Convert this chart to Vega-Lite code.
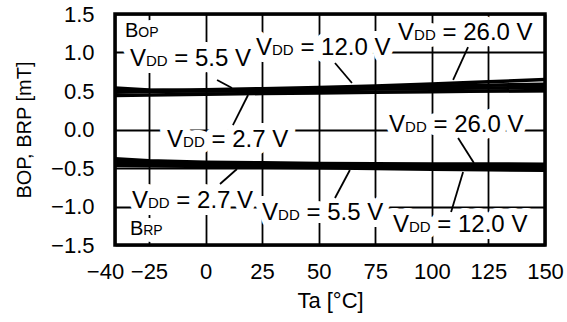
{
  "$schema": "https://vega.github.io/schema/vega-lite/v6.json",
  "width": 430,
  "height": 231,
  "autosize": {"type": "none"},
  "padding": {"left": 115, "top": 14, "right": 22, "bottom": 77},
  "background": "white",
  "config": {
    "font": "Liberation Sans",
    "view": {"stroke": "black", "strokeWidth": 3.5},
    "axis": {
      "grid": true, "gridColor": "black", "gridWidth": 1.8, "gridOpacity": 1,
      "domain": false, "ticks": false,
      "labelFont": "Liberation Sans", "labelColor": "black", "labelFontSize": 22,
      "titleFont": "Liberation Sans", "titleFontWeight": "normal", "titleColor": "black", "titleFontSize": 22
    }
  },
  "datasets": {
    "series": [
      {"curve": "BOP 26.0 V", "ta": -40, "b": 0.50}, {"curve": "BOP 26.0 V", "ta": -25, "b": 0.505}, {"curve": "BOP 26.0 V", "ta": 0, "b": 0.515}, {"curve": "BOP 26.0 V", "ta": 25, "b": 0.53}, {"curve": "BOP 26.0 V", "ta": 50, "b": 0.545}, {"curve": "BOP 26.0 V", "ta": 75, "b": 0.565}, {"curve": "BOP 26.0 V", "ta": 100, "b": 0.59}, {"curve": "BOP 26.0 V", "ta": 125, "b": 0.62}, {"curve": "BOP 26.0 V", "ta": 150, "b": 0.65},
      {"curve": "BOP 12.0 V", "ta": -40, "b": 0.485}, {"curve": "BOP 12.0 V", "ta": -25, "b": 0.492}, {"curve": "BOP 12.0 V", "ta": 0, "b": 0.503}, {"curve": "BOP 12.0 V", "ta": 25, "b": 0.517}, {"curve": "BOP 12.0 V", "ta": 50, "b": 0.532}, {"curve": "BOP 12.0 V", "ta": 75, "b": 0.547}, {"curve": "BOP 12.0 V", "ta": 100, "b": 0.562}, {"curve": "BOP 12.0 V", "ta": 125, "b": 0.576}, {"curve": "BOP 12.0 V", "ta": 150, "b": 0.588},
      {"curve": "BOP 5.5 V", "ta": -40, "b": 0.54}, {"curve": "BOP 5.5 V", "ta": -25, "b": 0.513}, {"curve": "BOP 5.5 V", "ta": 0, "b": 0.50}, {"curve": "BOP 5.5 V", "ta": 25, "b": 0.505}, {"curve": "BOP 5.5 V", "ta": 50, "b": 0.515}, {"curve": "BOP 5.5 V", "ta": 75, "b": 0.525}, {"curve": "BOP 5.5 V", "ta": 100, "b": 0.533}, {"curve": "BOP 5.5 V", "ta": 125, "b": 0.54}, {"curve": "BOP 5.5 V", "ta": 150, "b": 0.545},
      {"curve": "BOP 2.7 V", "ta": -40, "b": 0.44}, {"curve": "BOP 2.7 V", "ta": -25, "b": 0.447}, {"curve": "BOP 2.7 V", "ta": 0, "b": 0.457}, {"curve": "BOP 2.7 V", "ta": 25, "b": 0.467}, {"curve": "BOP 2.7 V", "ta": 50, "b": 0.475}, {"curve": "BOP 2.7 V", "ta": 75, "b": 0.483}, {"curve": "BOP 2.7 V", "ta": 100, "b": 0.491}, {"curve": "BOP 2.7 V", "ta": 125, "b": 0.499}, {"curve": "BOP 2.7 V", "ta": 150, "b": 0.506},
      {"curve": "BRP 26.0 V", "ta": -40, "b": -0.38}, {"curve": "BRP 26.0 V", "ta": -25, "b": -0.405}, {"curve": "BRP 26.0 V", "ta": 0, "b": -0.425}, {"curve": "BRP 26.0 V", "ta": 25, "b": -0.433}, {"curve": "BRP 26.0 V", "ta": 50, "b": -0.44}, {"curve": "BRP 26.0 V", "ta": 75, "b": -0.445}, {"curve": "BRP 26.0 V", "ta": 100, "b": -0.448}, {"curve": "BRP 26.0 V", "ta": 125, "b": -0.449}, {"curve": "BRP 26.0 V", "ta": 150, "b": -0.45},
      {"curve": "BRP 12.0 V", "ta": -40, "b": -0.415}, {"curve": "BRP 12.0 V", "ta": -25, "b": -0.425}, {"curve": "BRP 12.0 V", "ta": 0, "b": -0.44}, {"curve": "BRP 12.0 V", "ta": 25, "b": -0.45}, {"curve": "BRP 12.0 V", "ta": 50, "b": -0.458}, {"curve": "BRP 12.0 V", "ta": 75, "b": -0.465}, {"curve": "BRP 12.0 V", "ta": 100, "b": -0.47}, {"curve": "BRP 12.0 V", "ta": 125, "b": -0.475}, {"curve": "BRP 12.0 V", "ta": 150, "b": -0.48},
      {"curve": "BRP 5.5 V", "ta": -40, "b": -0.44}, {"curve": "BRP 5.5 V", "ta": -25, "b": -0.447}, {"curve": "BRP 5.5 V", "ta": 0, "b": -0.46}, {"curve": "BRP 5.5 V", "ta": 25, "b": -0.47}, {"curve": "BRP 5.5 V", "ta": 50, "b": -0.478}, {"curve": "BRP 5.5 V", "ta": 75, "b": -0.486}, {"curve": "BRP 5.5 V", "ta": 100, "b": -0.493}, {"curve": "BRP 5.5 V", "ta": 125, "b": -0.5}, {"curve": "BRP 5.5 V", "ta": 150, "b": -0.505},
      {"curve": "BRP 2.7 V", "ta": -40, "b": -0.465}, {"curve": "BRP 2.7 V", "ta": -25, "b": -0.47}, {"curve": "BRP 2.7 V", "ta": 0, "b": -0.48}, {"curve": "BRP 2.7 V", "ta": 25, "b": -0.49}, {"curve": "BRP 2.7 V", "ta": 50, "b": -0.498}, {"curve": "BRP 2.7 V", "ta": 75, "b": -0.507}, {"curve": "BRP 2.7 V", "ta": 100, "b": -0.515}, {"curve": "BRP 2.7 V", "ta": 125, "b": -0.523}, {"curve": "BRP 2.7 V", "ta": 150, "b": -0.53}
    ],
    "vlabels": [
      {"ta": -33.4, "b": 0.825, "main": "V", "sub": "DD", "rest": "= 5.5 V"},
      {"ta": 22.3, "b": 0.968, "main": "V", "sub": "DD", "rest": "= 12.0 V"},
      {"ta": 85.1, "b": 1.162, "main": "V", "sub": "DD", "rest": "= 26.0 V"},
      {"ta": -17.0, "b": -0.227, "main": "V", "sub": "DD", "rest": "= 2.7 V"},
      {"ta": 81.1, "b": -0.032, "main": "V", "sub": "DD", "rest": "= 26.0 V"},
      {"ta": -32.5, "b": -1.019, "main": "V", "sub": "DD", "rest": "= 2.7 V"},
      {"ta": 25.0, "b": -1.175, "main": "V", "sub": "DD", "rest": "= 5.5 V"},
      {"ta": 82.8, "b": -1.331, "main": "V", "sub": "DD", "rest": "= 12.0 V"}
    ],
    "blabels": [
      {"ta": -35.6, "b": 1.201, "main": "B", "sub": "OP"},
      {"ta": -33.4, "b": -1.370, "main": "B", "sub": "RP"}
    ],
    "leaders": [
      {"ta": 5.1, "b": 0.643, "ta2": 11.7, "b2": 0.539},
      {"ta": 57.2, "b": 0.864, "ta2": 64.7, "b2": 0.604},
      {"ta": 116.0, "b": 1.071, "ta2": 109.4, "b2": 0.643},
      {"ta": 12.1, "b": 0.058, "ta2": 18.8, "b2": 0.448},
      {"ta": 6.4, "b": -0.708, "ta2": 13.9, "b2": -0.513},
      {"ta": 57.2, "b": -0.890, "ta2": 63.8, "b2": -0.526},
      {"ta": 108.5, "b": -1.071, "ta2": 113.8, "b2": -0.552},
      {"ta": 111.6, "b": -0.110, "ta2": 118.6, "b2": -0.435}
    ]
  },
  "encoding": {
    "x": {
      "field": "ta", "type": "quantitative",
      "scale": {"domain": [-40, 150], "nice": false, "zero": false},
      "axis": {
        "values": [-40, -25, 0, 25, 50, 75, 100, 125, 150],
        "title": "Ta [°C]",
        "labelFlush": false,
        "labelOffset": {"condition": {"test": "datum.value === -40", "value": -10}, "value": 0},
        "labelPadding": 16, "titlePadding": 8
      }
    },
    "y": {
      "field": "b", "type": "quantitative",
      "scale": {"domain": [-1.5, 1.5], "nice": false, "zero": false},
      "axis": {
        "values": [-1.5, -1, -0.5, 0, 0.5, 1, 1.5],
        "format": ".1f",
        "title": "BOP, BRP [mT]",
        "titleFontSize": 20,
        "labelPadding": 21, "titlePadding": 16
      }
    }
  },
  "layer": [
    {"data": {"name": "vlabels"}, "mark": {"type": "text", "align": "left", "baseline": "alphabetic", "fontSize": 24, "fill": "white", "stroke": "white", "strokeWidth": 14, "strokeJoin": "round"}, "encoding": {"text": {"field": "main"}}},
    {"data": {"name": "vlabels"}, "mark": {"type": "text", "align": "left", "baseline": "alphabetic", "fontSize": 15, "dx": 16, "fill": "white", "stroke": "white", "strokeWidth": 14, "strokeJoin": "round"}, "encoding": {"text": {"field": "sub"}}},
    {"data": {"name": "vlabels"}, "mark": {"type": "text", "align": "left", "baseline": "alphabetic", "fontSize": 24, "dx": 44.4, "fill": "white", "stroke": "white", "strokeWidth": 14, "strokeJoin": "round"}, "encoding": {"text": {"field": "rest"}}},
    {"data": {"name": "blabels"}, "mark": {"type": "text", "align": "left", "baseline": "alphabetic", "fontSize": 20, "fill": "white", "stroke": "white", "strokeWidth": 14, "strokeJoin": "round"}, "encoding": {"text": {"field": "main"}}},
    {"data": {"name": "blabels"}, "mark": {"type": "text", "align": "left", "baseline": "alphabetic", "fontSize": 14, "dx": 13.3, "fill": "white", "stroke": "white", "strokeWidth": 14, "strokeJoin": "round"}, "encoding": {"text": {"field": "sub"}}},
    {"data": {"name": "series"}, "mark": {"type": "line", "color": "black", "strokeWidth": 3.5}, "encoding": {"detail": {"field": "curve"}}},
    {"data": {"name": "leaders"}, "mark": {"type": "rule", "color": "black", "strokeWidth": 1.8}, "encoding": {"x2": {"field": "ta2"}, "y2": {"field": "b2"}}},
    {"data": {"name": "vlabels"}, "mark": {"type": "text", "align": "left", "baseline": "alphabetic", "fontSize": 24, "color": "black"}, "encoding": {"text": {"field": "main"}}},
    {"data": {"name": "vlabels"}, "mark": {"type": "text", "align": "left", "baseline": "alphabetic", "fontSize": 15, "dx": 16, "color": "black"}, "encoding": {"text": {"field": "sub"}}},
    {"data": {"name": "vlabels"}, "mark": {"type": "text", "align": "left", "baseline": "alphabetic", "fontSize": 24, "dx": 44.4, "color": "black"}, "encoding": {"text": {"field": "rest"}}},
    {"data": {"name": "blabels"}, "mark": {"type": "text", "align": "left", "baseline": "alphabetic", "fontSize": 20, "color": "black"}, "encoding": {"text": {"field": "main"}}},
    {"data": {"name": "blabels"}, "mark": {"type": "text", "align": "left", "baseline": "alphabetic", "fontSize": 14, "dx": 13.3, "color": "black"}, "encoding": {"text": {"field": "sub"}}}
  ]
}
